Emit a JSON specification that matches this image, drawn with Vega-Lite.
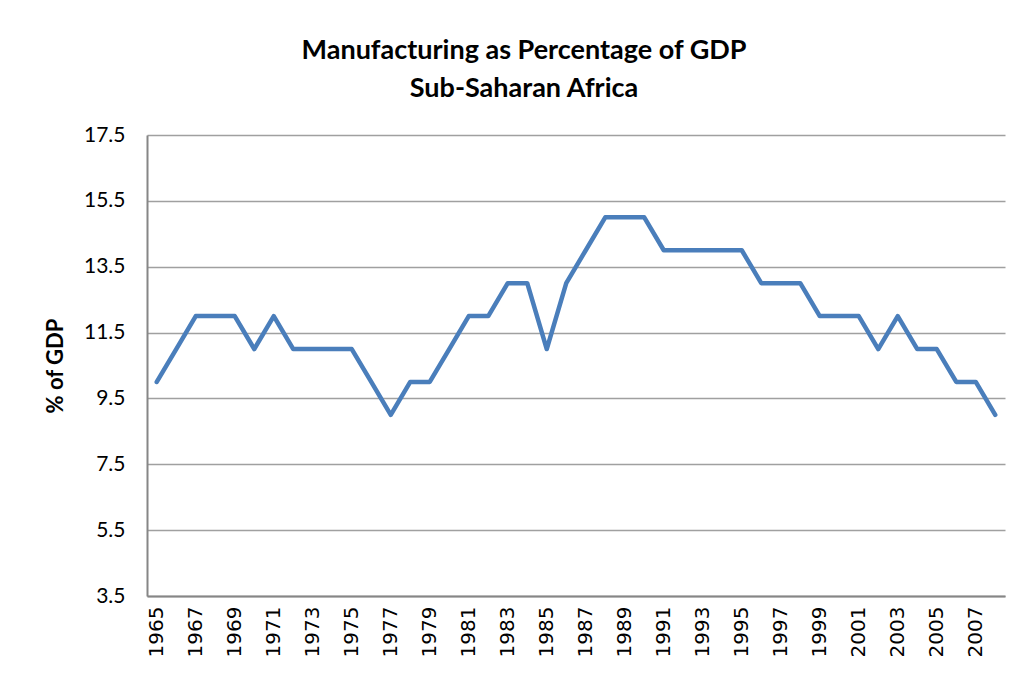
{
  "$schema": "https://vega.github.io/schema/vega-lite/v6.json",
  "autosize": {"type": "none"},
  "padding": {"left": 147, "top": 135, "right": 19, "bottom": 79},
  "width": 858,
  "height": 461,
  "background": "white",
  "config": {"view": {"stroke": null}},
  "title": {
    "text": ["Manufacturing as Percentage of GDP", "Sub-Saharan Africa"],
    "font": "Lato",
    "fontSize": 27,
    "fontWeight": "bold",
    "color": "#000000",
    "lineHeight": 38,
    "anchor": "middle",
    "frame": "group",
    "dx": -52,
    "offset": 21
  },
  "data": {
    "values": [
      {"year": 1965, "pct": 10}, {"year": 1966, "pct": 11}, {"year": 1967, "pct": 12},
      {"year": 1968, "pct": 12}, {"year": 1969, "pct": 12}, {"year": 1970, "pct": 11},
      {"year": 1971, "pct": 12}, {"year": 1972, "pct": 11}, {"year": 1973, "pct": 11},
      {"year": 1974, "pct": 11}, {"year": 1975, "pct": 11}, {"year": 1976, "pct": 10},
      {"year": 1977, "pct": 9}, {"year": 1978, "pct": 10}, {"year": 1979, "pct": 10},
      {"year": 1980, "pct": 11}, {"year": 1981, "pct": 12}, {"year": 1982, "pct": 12},
      {"year": 1983, "pct": 13}, {"year": 1984, "pct": 13}, {"year": 1985, "pct": 11},
      {"year": 1986, "pct": 13}, {"year": 1987, "pct": 14}, {"year": 1988, "pct": 15},
      {"year": 1989, "pct": 15}, {"year": 1990, "pct": 15}, {"year": 1991, "pct": 14},
      {"year": 1992, "pct": 14}, {"year": 1993, "pct": 14}, {"year": 1994, "pct": 14},
      {"year": 1995, "pct": 14}, {"year": 1996, "pct": 13}, {"year": 1997, "pct": 13},
      {"year": 1998, "pct": 13}, {"year": 1999, "pct": 12}, {"year": 2000, "pct": 12},
      {"year": 2001, "pct": 12}, {"year": 2002, "pct": 11}, {"year": 2003, "pct": 12},
      {"year": 2004, "pct": 11}, {"year": 2005, "pct": 11}, {"year": 2006, "pct": 10},
      {"year": 2007, "pct": 10}, {"year": 2008, "pct": 9}
    ]
  },
  "mark": {"type": "line", "color": "#4a7ebb", "strokeWidth": 4.5, "strokeJoin": "round", "strokeCap": "round"},
  "encoding": {
    "x": {
      "field": "year",
      "type": "ordinal",
      "scale": {"type": "point", "padding": 0.5},
      "axis": {
        "title": null,
        "values": [1965, 1967, 1969, 1971, 1973, 1975, 1977, 1979, 1981, 1983, 1985, 1987, 1989, 1991, 1993, 1995, 1997, 1999, 2001, 2003, 2005, 2007],
        "labelAngle": -90,
        "labelAlign": "right",
        "labelBaseline": "middle",
        "labelFont": "DejaVu Sans",
        "labelFontSize": 20,
        "labelColor": "#000000",
        "labelPadding": 10,
        "ticks": false,
        "grid": false,
        "domainColor": "#868686",
        "domainWidth": 2
      }
    },
    "y": {
      "field": "pct",
      "type": "quantitative",
      "scale": {"domain": [3.5, 17.5], "nice": false, "zero": false},
      "axis": {
        "title": "% of GDP",
        "titleFont": "Lato",
        "titleFontSize": 22,
        "titleFontWeight": "bold",
        "titleColor": "#000000",
        "titlePadding": 16,
        "values": [3.5, 5.5, 7.5, 9.5, 11.5, 13.5, 15.5, 17.5],
        "format": ".1f",
        "labelFont": "Lato",
        "labelFontSize": 21,
        "labelColor": "#000000",
        "labelPadding": 22,
        "ticks": false,
        "grid": true,
        "gridColor": "#a0a0a0",
        "gridWidth": 1.5,
        "domainColor": "#868686",
        "domainWidth": 2
      }
    }
  }
}
